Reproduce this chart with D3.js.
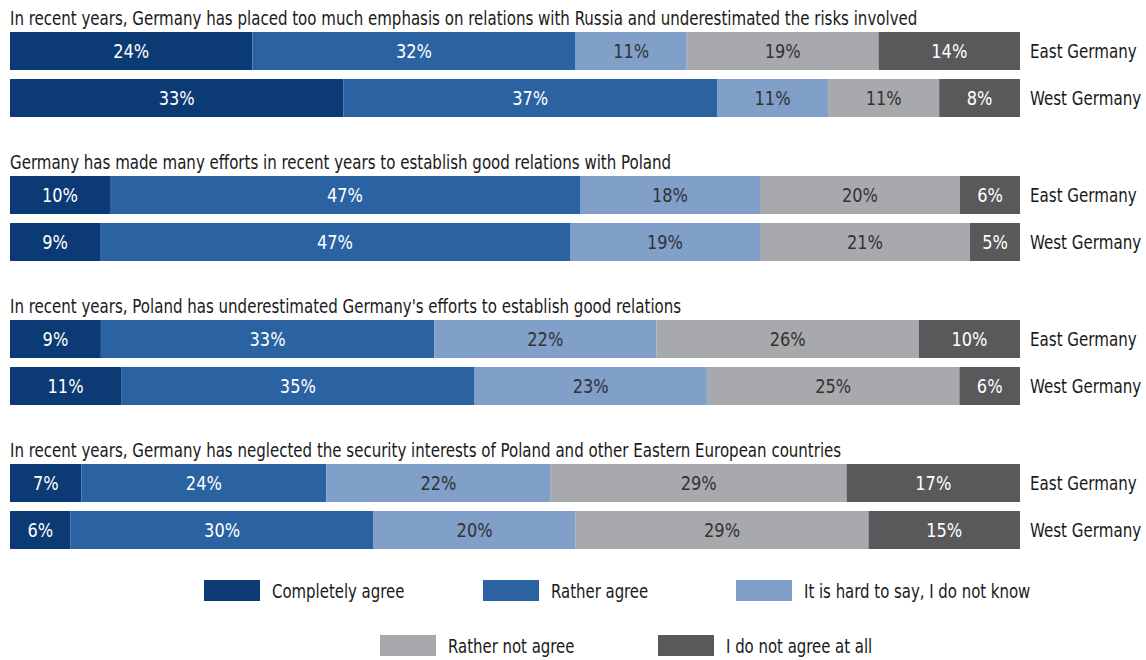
<!DOCTYPE html>
<html>
<head>
<meta charset="utf-8">
<script src="https://cdn.jsdelivr.net/npm/d3@7"></script>
<style>
  body { margin: 0; background: #fff; }
  text { font-family: "DejaVu Sans Condensed", "DejaVu Sans", sans-serif; }
</style>
</head>
<body>
<div id="chart"></div>
<script>
// data
var statements = [
  "In recent years, Germany has placed too much emphasis on relations with Russia and underestimated the risks involved",
  "Germany has made many efforts in recent years to establish good relations with Poland",
  "In recent years, Poland has underestimated Germany's efforts to establish good relations",
  "In recent years, Germany has neglected the security interests of Poland and other Eastern European countries"
];
var regions = ["East Germany", "West Germany"];
var answers = ["Completely agree", "Rather agree", "It is hard to say, I do not know", "Rather not agree", "I do not agree at all"];
var eastValues = [
  [24, 32, 11, 19, 14],
  [10, 47, 18, 20, 6],
  [9, 33, 22, 26, 10],
  [7, 24, 22, 29, 17]
];
var westValues = [
  [33, 37, 11, 11, 8],
  [9, 47, 19, 21, 5],
  [11, 35, 23, 25, 6],
  [6, 30, 20, 29, 15]
];

let width = 1146, height = 660;
let barLeft = 10, barRight = 1020;
let barH = 38;
let groupTop = 32, groupStep = 144, rowStep = 47;

let colors = ["#0b3a74", "#2a62a2", "#809fc9", "#a8a9ac", "#59595b"];
let textColors = ["#fff", "#fff", "#333", "#333", "#fff"];

let svg = d3.select("#chart").append("svg")
  .attr("width", width)
  .attr("height", height);

// narrow text: the original uses a condensed face, so squeeze horizontally
function narrowText(parent, x, y, k) {
  return parent.append("text")
    .attr("transform", `translate(${x},${y}) scale(${k},1)`);
}

statements.forEach(function (title, g) {
  let gy = groupTop + g * groupStep;
  narrowText(svg, barLeft, gy - 7, 0.88)
    .attr("font-size", 19)
    .attr("fill", "#1a1a1a")
    .text(title);

  [eastValues[g], westValues[g]].forEach(function (vals, r) {
    let total = d3.sum(vals);
    let x = d3.scaleLinear().domain([0, total]).range([barLeft, barRight]);
    let cum = d3.cumsum(vals);
    let segs = vals.map((v, i) => ({ v: v, i: i, x0: cum[i] - v, x1: cum[i] }));
    let ry = gy + r * rowStep;
    let row = svg.append("g");
    row.selectAll("rect")
      .data(segs)
      .enter()
      .append("rect")
      .attr("x", d => x(d.x0))
      .attr("y", ry)
      .attr("width", d => x(d.x1) - x(d.x0))
      .attr("height", barH)
      .attr("fill", d => colors[d.i]);
    segs.forEach(function (d) {
      narrowText(row, (x(d.x0) + x(d.x1)) / 2, ry + barH / 2, 0.9)
        .attr("dy", ".35em")
        .attr("text-anchor", "middle")
        .attr("font-size", 20)
        .attr("fill", textColors[d.i])
        .text(d.v + "%");
    });
    narrowText(row, barRight + 10, ry + barH / 2, 0.84)
      .attr("dy", ".35em")
      .attr("font-size", 20)
      .attr("fill", "#1a1a1a")
      .text(regions[r]);
  });
});

// legend
let legendPos = [
  { x: 204, y: 580 }, { x: 483, y: 580 }, { x: 736, y: 580 },
  { x: 380, y: 635 }, { x: 658, y: 635 }
];
let legend = svg.append("g");
answers.forEach(function (a, i) {
  let p = legendPos[i];
  legend.append("rect")
    .attr("x", p.x).attr("y", p.y)
    .attr("width", 56).attr("height", 21)
    .attr("fill", colors[i]);
  narrowText(legend, p.x + 68, p.y + 10.5, 0.83)
    .attr("dy", ".35em")
    .attr("font-size", 20)
    .attr("fill", "#1a1a1a")
    .text(a);
});
</script>
</body>
</html>
